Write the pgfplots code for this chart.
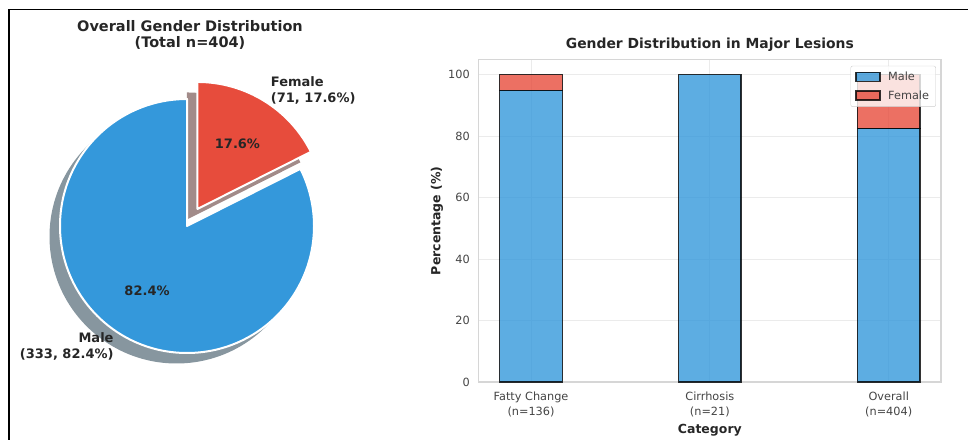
\documentclass[border=0pt]{standalone}
\usepackage{pgfplots}
\pgfplotsset{compat=1.18}
\usepackage{pgfplotstable}
\usepackage{fontspec}
\setmainfont{DejaVu Sans}

\definecolor{maleblue}{HTML}{3498DB}
\definecolor{femalered}{HTML}{E74C3C}
\definecolor{maleshadow}{HTML}{87969F}
\definecolor{femaleshadow}{HTML}{A28B89}
\definecolor{gridgray}{HTML}{EBEBEB}
\definecolor{framegray}{HTML}{D6D6D6}
\definecolor{legendgray}{HTML}{CCCCCC}
\definecolor{ticktext}{HTML}{444444}
\definecolor{darktext}{HTML}{262626}

% patient counts behind the pie
\def\nMale{333}
\def\nFemale{71}

% share of each sex per lesion group (%)
\pgfplotstableread{
x male female
0 94.85 5.15
1 100.00 0.00
2 82.43 17.57
}\lesiondata

\pgfplotsset{every axis title shift=0pt}

\begin{document}
\begin{tikzpicture}
\pgfmathsetmacro\nTotal{\nMale+\nFemale}
\pgfmathsetmacro\fMale{\nMale/\nTotal}
\pgfmathsetmacro\aSplit{90+360*\fMale}
\pgfmathsetmacro\aMaleMid{(90+\aSplit)/2}
\pgfmathsetmacro\aFemMid{(\aSplit+450)/2}
\pgfmathsetmacro\R{127}
\pgfmathsetmacro\ex{20*cos(\aFemMid)}
\pgfmathsetmacro\ey{20*sin(\aFemMid)}
\pgfmathsetmacro\sx{-10.5}
\pgfmathsetmacro\sy{-10.5}

% ---------------- pie: overall split ----------------
\begin{axis}[
  hide axis, clip=false,
  scale only axis, width=300bp, height=300bp,
  xmin=-150, xmax=150, ymin=-150, ymax=150,
  at={(187bp,214bp)}, anchor=origin,
  title={Overall Gender Distribution\\(Total n=404)},
  title style={at={(axis description cs:0.51,1.1367)}, anchor=center, align=center,
    font=\fontsize{14.5bp}{16.7bp}\selectfont\bfseries, text=darktext},
]
% drop shadows
\fill[maleshadow] (axis cs:\sx,\sy) -- ++(90:\R bp)
  arc[start angle=90, end angle=\aSplit, radius=\R bp] -- cycle;
\fill[femaleshadow] (axis cs:{\ex+\sx},{\ey+\sy}) -- ++(\aSplit:\R bp)
  arc[start angle=\aSplit, end angle=450, radius=\R bp] -- cycle;
% wedges
\filldraw[fill=maleblue, draw=white, line width=2bp, line join=round]
  (axis cs:0,0) -- ++(90:\R bp)
  arc[start angle=90, end angle=\aSplit, radius=\R bp] -- cycle;
\filldraw[fill=femalered, draw=white, line width=2bp, line join=round]
  (axis cs:\ex,\ey) -- ++(\aSplit:\R bp)
  arc[start angle=\aSplit, end angle=450, radius=\R bp] -- cycle;
% percentages inside the wedges
\node[font=\fontsize{13bp}{15bp}\selectfont\bfseries, text=darktext]
  at (axis cs:{0.6*\R*cos(\aMaleMid)},{0.6*\R*sin(\aMaleMid)}) {82.4\%};
\node[font=\fontsize{13bp}{15bp}\selectfont\bfseries, text=darktext]
  at (axis cs:{\ex+0.6*\R*cos(\aFemMid)},{\ey+0.6*\R*sin(\aFemMid)}) {17.6\%};
% outer labels
\node[font=\fontsize{13bp}{16bp}\selectfont\bfseries, text=darktext, align=right,
  anchor=east, inner sep=0pt]
  at (axis cs:{1.1*\R*cos(\aMaleMid)},{1.1*\R*sin(\aMaleMid)-1.5}) {Male\\(333, 82.4\%)};
\node[font=\fontsize{13bp}{16bp}\selectfont\bfseries, text=darktext, align=left,
  anchor=west, inner sep=0pt]
  at (axis cs:{\ex+1.1*\R*cos(\aFemMid)},{\ey+1.1*\R*sin(\aFemMid)}) {Female\\(71, 17.6\%)};
\end{axis}

% ---------------- stacked bars: by lesion ----------------
\begin{axis}[
  scale only axis, width=462.3bp, height=322.7bp,
  at={(478.7bp,58bp)}, anchor=south west,
  ybar stacked, bar width=0.35,
  xmin=-0.2925, xmax=2.2925, ymin=0, ymax=105,
  xtick={0,1,2},
  xticklabels={{Fatty Change\\(n=136)},{Cirrhosis\\(n=21)},{Overall\\(n=404)}},
  ytick={0,20,...,100},
  xmajorgrids, ymajorgrids,
  grid style={gridgray, line width=0.8bp},
  axis line style={framegray, line width=1.2bp},
  major tick length=0pt,
  /pgf/number format/assume math mode=true,
  tick label style={font=\fontsize{11.3bp}{14.7bp}\selectfont, text=ticktext},
  xticklabel style={align=center, inner sep=0pt, yshift=-10bp},
  yticklabel style={inner sep=0pt, xshift=-8.7bp},
  title={Gender Distribution in Major Lesions},
  title style={at={(axis description cs:0.5,1.0443)}, anchor=center,
    font=\fontsize{13.9bp}{16bp}\selectfont\bfseries, text=darktext},
  xlabel={Category},
  xlabel style={at={(axis description cs:0.5,-0.149)}, anchor=center,
    font=\fontsize{12.5bp}{15bp}\selectfont\bfseries, text=darktext},
  ylabel={Percentage (\%)},
  ylabel style={at={(axis description cs:-0.0902,0.5)}, anchor=center,
    font=\fontsize{12.5bp}{15bp}\selectfont\bfseries, text=darktext},
  legend image code/.code={%
    \path[draw=none, fill=none] (0bp,-4.5bp) rectangle (30bp,4.5bp);
    \draw[#1, sharp corners] (0bp,-4.5bp) rectangle (24bp,4.5bp);},
  legend cell align=left,
  legend style={at={(0.989,0.98)}, anchor=north east,
    draw=legendgray, fill=white, fill opacity=0.8, draw opacity=1, text opacity=1,
    rounded corners=2bp, inner xsep=4.7bp, inner ysep=4bp, row sep=4.6bp,
    font=\fontsize{11.3bp}{13bp}\selectfont, text=ticktext},
]
\addplot[fill=maleblue, fill opacity=0.8, draw=black, draw opacity=0.8, line width=1.5bp]
  table[x=x, y=male] {\lesiondata};
\addplot[fill=femalered, fill opacity=0.8, draw=black, draw opacity=0.8, line width=1.5bp]
  table[x=x, y=female] {\lesiondata};
\legend{Male, Female}
\end{axis}

% figure frame (left and top edges)
\draw[line width=1.7bp, black] (9bp,0bp) -- (9bp,430.4bp) -- (968bp,430.4bp);

\pgfresetboundingbox
\path[use as bounding box] (0bp,0bp) rectangle (968bp,440bp);
\end{tikzpicture}
\end{document}
